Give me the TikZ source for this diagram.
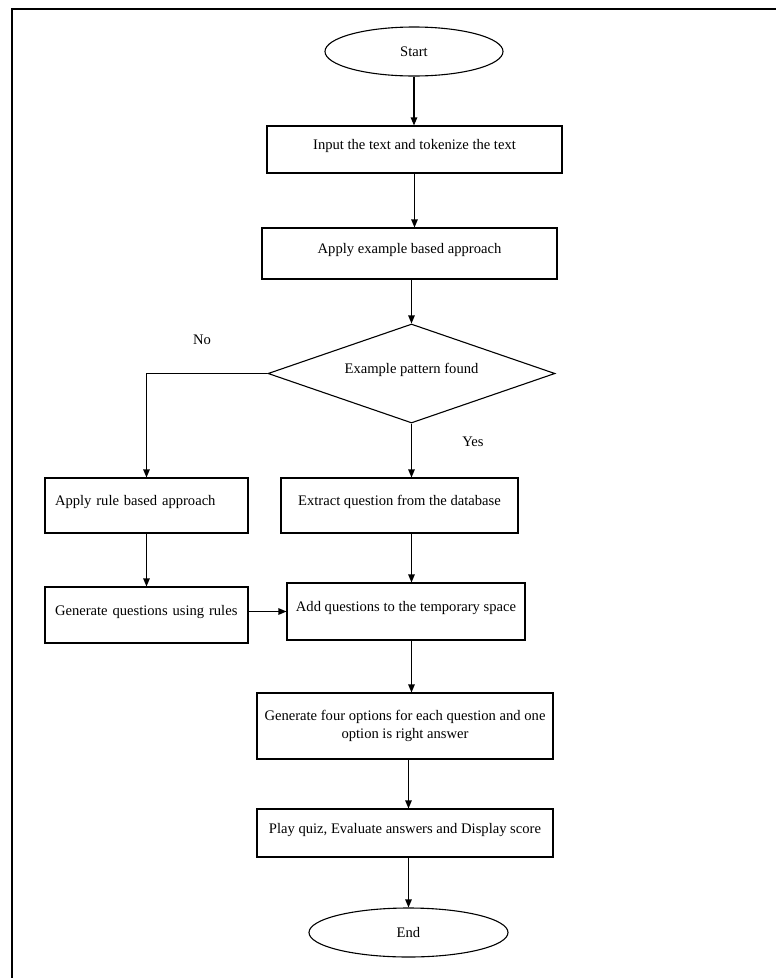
\documentclass[tikz,border=0pt]{standalone}
\usepackage{fontspec}
\setmainfont{Liberation Serif}
\usepackage{tikz}
\usetikzlibrary{shapes.geometric, arrows.meta}

\tikzset{
    block/.style={draw, line width=1.1pt, inner sep=0pt},
    lifted/.style={text height=9pt, text depth=9pt},
    term/.style={draw, ellipse, line width=1.1pt, inner sep=0pt},
    arr/.style={line width=1.1pt, -{Triangle[length=8pt, width=6.5pt]}}
}

\begin{document}
\begin{tikzpicture}[x=1pt, y=-1pt, font=\fontsize{14.6}{17.5}\selectfont]
    \useasboundingbox (0, 0) rectangle (776, 978);

    % frame
    \draw[line width=2.5pt] (12, 978) -- (12, 9) -- (776, 9);

    % main column
    \node[term, minimum width=178pt, minimum height=49pt] (start) at (414, 51.5) {Start};
    \node[block, lifted, minimum width=295pt, minimum height=47pt] (input) at (414.5, 149.5) {Input the text and tokenize the text};
    \node[block, lifted, minimum width=295pt, minimum height=51pt] (example) at (409.5, 253.5) {Apply example based approach};
    \node[draw, diamond, aspect=2.9, lifted, line width=1.1pt, inner sep=0pt,
          minimum width=287pt, minimum height=99pt] (check) at (411.5, 373.5) {Example pattern found};

    % branches
    \node[block, lifted, minimum width=203pt, minimum height=55pt, text width=183pt, align=left] (rule) at (146.5, 505.5) {Apply rule based approach};
    \node[block, lifted, minimum width=237pt, minimum height=55pt] (extract) at (399.5, 505.5) {Extract question from the database};
    \node[block, lifted, minimum width=203pt, minimum height=56pt, text width=183pt, align=left] (genq) at (146.5, 615) {Generate questions using rules};
    \node[block, lifted, minimum width=238pt, minimum height=57pt] (addq) at (406, 611.5) {Add questions to the temporary space};

    % end part
    \node[block, minimum width=296pt, minimum height=66pt, align=center] (options) at (405, 726) {Generate four options for each question and one\\option is right answer};
    \node[block, lifted, minimum width=296pt, minimum height=48pt] (play) at (405, 833) {Play quiz, Evaluate answers and Display score};
    \node[term, minimum width=199pt, minimum height=49pt] (stop) at (408.5, 932.5) {End};

    % labels
    \node (lblno) at (202, 340) {No};
    \node (lblyes) at (473, 442) {Yes};

    % connectors
    \draw[arr] (start.south) -- (start.south |- input.north);
    \draw[arr] (input.south) -- (input.south |- example.north);
    \draw[arr] (check.north |- example.south) -- (check.north);
    \draw[arr] (check.west) -| (rule.north);
    \draw[arr] (check.south) -- (check.south |- extract.north);
    \draw[arr] (rule.south) -- (rule.south |- genq.north);
    \draw[arr] (extract.south -| check.south) -- (addq.north -| check.south);
    \draw[arr] (genq.east |- addq.west) -- (addq.west);
    \draw[arr] (addq.south -| check.south) -- (options.north -| check.south);
    \draw[arr] (options.south -| stop.north) -- (play.north -| stop.north);
    \draw[arr] (play.south -| stop.north) -- (stop.north);
\end{tikzpicture}
\end{document}
